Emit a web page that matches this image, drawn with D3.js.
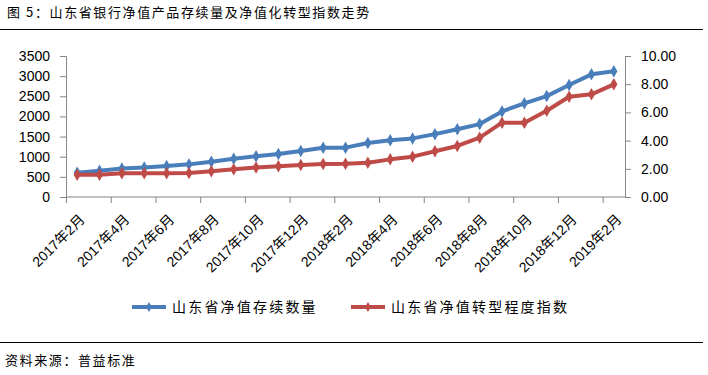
<!DOCTYPE html>
<html lang="zh">
<head>
<meta charset="UTF-8">
<title>山东省银行净值产品存续量及净值化转型指数走势</title>
<style>
  body { margin: 0; background: #fff; }
  svg { display: block; }
  .cjk { font-family: "Noto Sans CJK SC", sans-serif; }
  .tick text, .xl { font-family: "Liberation Sans", "Noto Sans CJK SC", sans-serif; fill: #000; }
  .line { fill: none; stroke-width: 4; stroke-linejoin: round; }
</style>
</head>
<body>
<svg width="708" height="375"></svg>
<script src="https://cdn.jsdelivr.net/npm/d3@7"></script>
<script>
const months = [
  "2017年2月", "2017年3月", "2017年4月", "2017年5月", "2017年6月", "2017年7月",
  "2017年8月", "2017年9月", "2017年10月", "2017年11月", "2017年12月", "2018年1月",
  "2018年2月", "2018年3月", "2018年4月", "2018年5月", "2018年6月", "2018年7月",
  "2018年8月", "2018年9月", "2018年10月", "2018年11月", "2018年12月", "2019年1月",
  "2019年2月"
];
const stock = [605, 650, 710, 735, 770, 810, 875, 950, 1010, 1065, 1140, 1220, 1225,
  1340, 1410, 1455, 1560, 1680, 1810, 2125, 2325, 2505, 2780, 3045, 3120];
const index = [1.58, 1.58, 1.68, 1.68, 1.68, 1.70, 1.82, 1.96, 2.10, 2.18, 2.27, 2.34, 2.36,
  2.43, 2.67, 2.86, 3.24, 3.62, 4.21, 5.27, 5.27, 6.12, 7.11, 7.28, 7.99];
const leftTicks = [0, 500, 1000, 1500, 2000, 2500, 3000, 3500];
const rightTicks = [0, 2, 4, 6, 8, 10];
const seriesNames = ["山东省净值存续数量", "山东省净值转型程度指数"];
const colors = ["#4A7EBB", "#BE4B48"];

const svg = d3.select("svg");
const margin = {top: 56, right: 83, bottom: 178, left: 66};
const width = 708 - margin.left - margin.right;
const height = 375 - margin.top - margin.bottom;
const g = svg.append("g").attr("transform", `translate(${margin.left},${margin.top})`);

// title and rules
svg.append("text").attr("class", "cjk").attr("x", 7).attr("y", 17)
  .style("font-size", "13px").style("letter-spacing", "1.6px")
  .text("图 5：山东省银行净值产品存续量及净值化转型指数走势");
svg.append("line").attr("x1", 0).attr("x2", 703).attr("y1", 29.5).attr("y2", 29.5)
  .attr("stroke", "#000").attr("stroke-width", 1);
svg.append("line").attr("x1", 0).attr("x2", 703).attr("y1", 342.5).attr("y2", 342.5)
  .attr("stroke", "#000").attr("stroke-width", 1);
svg.append("text").attr("class", "cjk").attr("x", 5).attr("y", 365)
  .style("font-size", "13px").style("letter-spacing", "1.6px")
  .text("资料来源：普益标准");

const x = d3.scaleBand().domain(months).range([0, width]).padding(0);
const yL = d3.scaleLinear().domain([0, 3500]).range([height, 0]);
const yR = d3.scaleLinear().domain([0, 10]).range([height, 0]);
const cx = d => x(d) + x.bandwidth() / 2;

const axisColor = "#868686";

const gl = g.append("g").call(d3.axisLeft(yL).tickValues(leftTicks).tickSize(6).tickPadding(10).tickFormat(d3.format("d")));
const gr = g.append("g").attr("transform", `translate(${width},0)`)
  .call(d3.axisRight(yR).tickValues(rightTicks).tickSize(6).tickPadding(10).tickFormat(d3.format(".2f")));
[gl, gr].forEach(a => {
  a.select(".domain").attr("stroke", axisColor);
  a.selectAll(".tick line").attr("stroke", axisColor);
  a.selectAll(".tick text").style("font-size", "14px");
});

// x axis: ticks at every second band boundary, labels centred on bands
const gx = g.append("g").attr("transform", `translate(0,${height})`);
gx.append("line").attr("x1", 0).attr("x2", width).attr("stroke", axisColor);
gx.selectAll(".xt").data(months.filter((d, i) => i % 2 === 0)).enter().append("line")
  .attr("x1", d => x(d) + 0.5).attr("x2", d => x(d) + 0.5)
  .attr("y1", 0).attr("y2", 6).attr("stroke", axisColor);
gx.selectAll(".xl").data(months.filter((d, i) => i % 2 === 0)).enter().append("text")
  .attr("class", "xl")
  .attr("transform", d => `translate(${cx(d) + 5},${20}) rotate(-45)`)
  .attr("text-anchor", "end")
  .attr("dy", "0.35em")
  .style("font-size", "14px")
  .text(d => d);

// lines
const lineL = d3.line().x((d, i) => cx(months[i])).y(d => yL(d));
const lineR = d3.line().x((d, i) => cx(months[i])).y(d => yR(d));
const diamond = d3.symbol().type(d3.symbolDiamond).size(45);

[[stock, lineL, yL], [index, lineR, yR]].forEach(([vals, ln, ys], k) => {
  g.append("path").datum(vals).attr("class", "line").attr("stroke", colors[k]).attr("d", ln);
  g.selectAll(".m" + k).data(vals).enter().append("path")
    .attr("d", diamond)
    .attr("transform", (d, i) => `translate(${cx(months[i])},${ys(d)})`)
    .attr("fill", colors[k]);
});

// legend
const legendX = [132, 351];
seriesNames.forEach((name, k) => {
  const lg = svg.append("g").attr("transform", `translate(${legendX[k]},307)`);
  lg.append("line").attr("x1", 0).attr("x2", 34).attr("stroke", colors[k]).attr("stroke-width", 4);
  lg.append("path").attr("d", d3.symbol().type(d3.symbolDiamond).size(30)).attr("transform", "translate(17,0)").attr("fill", colors[k]);
  lg.append("text").attr("class", "cjk").attr("x", 40).attr("dy", "0.36em")
    .style("font-size", "14px").style("letter-spacing", "2.2px").text(name);
});
</script>
</body>
</html>
